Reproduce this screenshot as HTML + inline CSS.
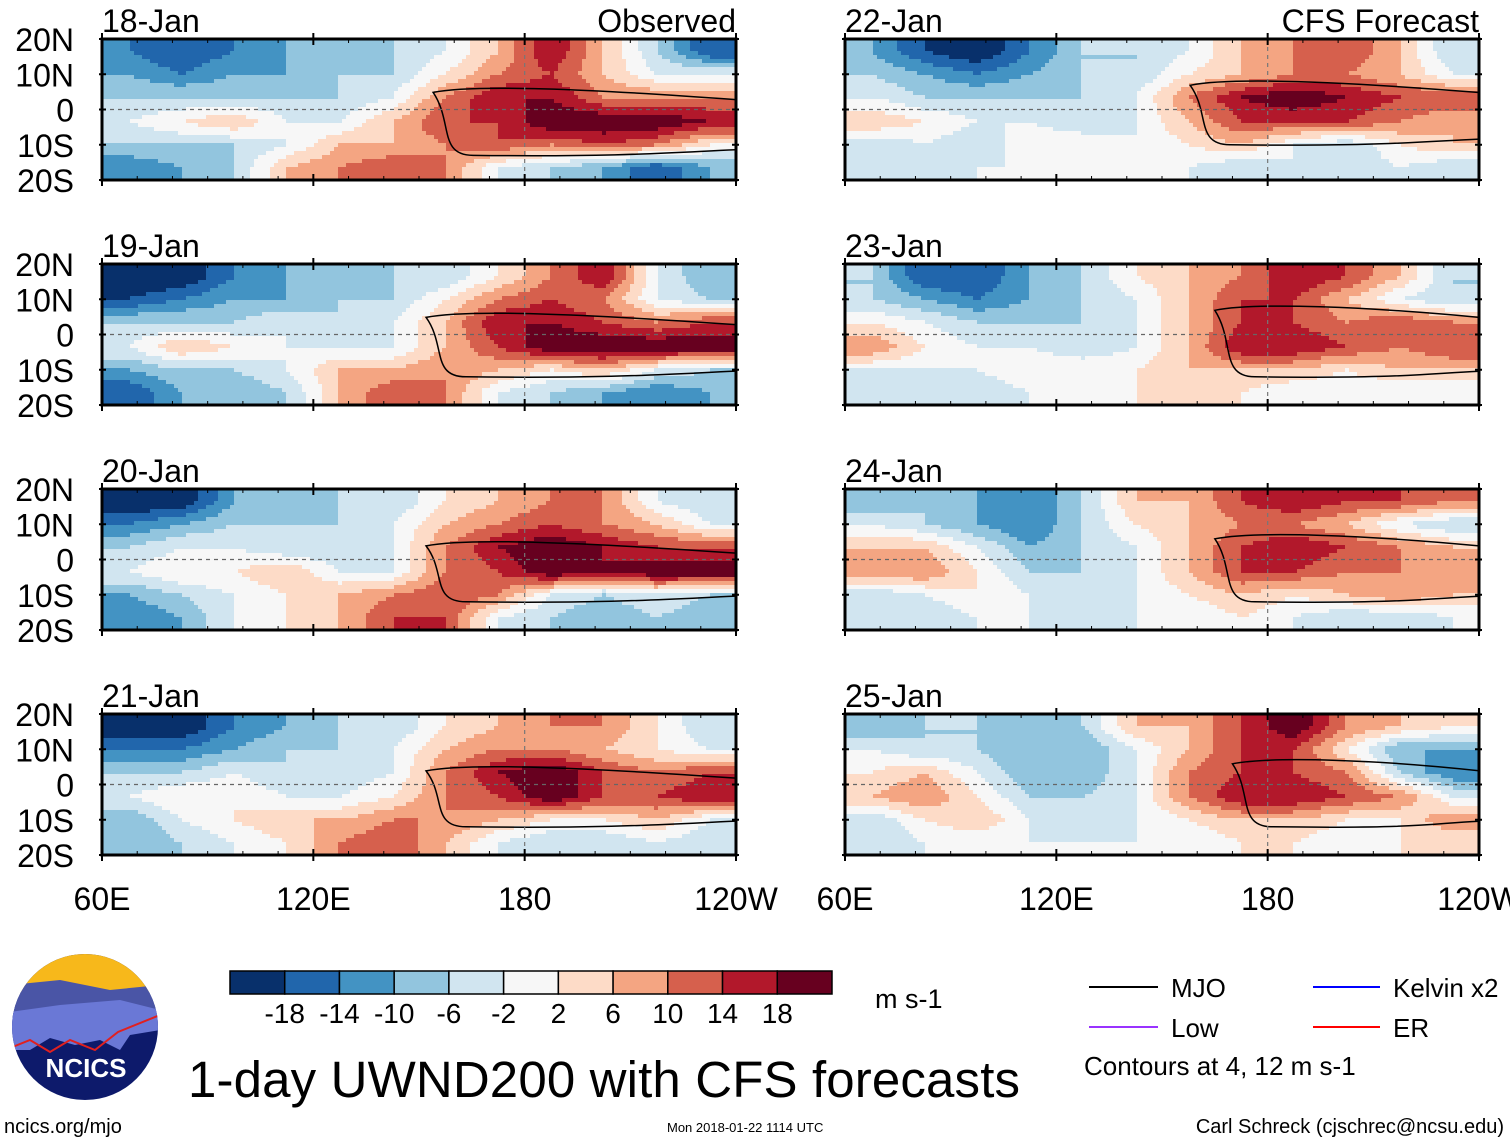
<!DOCTYPE html>
<html><head><meta charset="utf-8">
<style>
body{margin:0;background:#fff;width:1510px;height:1142px;overflow:hidden;font-family:"Liberation Sans",sans-serif;}
svg text{font-family:"Liberation Sans",sans-serif;}
</style></head>
<body>
<svg id="fig" width="1510" height="1142" viewBox="0 0 1510 1142" xmlns="http://www.w3.org/2000/svg">
<g id="panels"></g>
<g id="colorbar"></g>
<text x="875" y="1008" font-size="27">m s-1</text>
<g>
<line x1="1089" y1="987" x2="1158" y2="987" stroke="#000" stroke-width="2"/>
<text x="1171" y="997" font-size="26">MJO</text>
<line x1="1313" y1="987" x2="1380" y2="987" stroke="#0000ff" stroke-width="2"/>
<text x="1393" y="997" font-size="26">Kelvin x2</text>
<line x1="1089" y1="1027" x2="1158" y2="1027" stroke="#9933ff" stroke-width="2"/>
<text x="1171" y="1037" font-size="26">Low</text>
<line x1="1313" y1="1027" x2="1380" y2="1027" stroke="#ff0000" stroke-width="2"/>
<text x="1393" y="1037" font-size="26">ER</text>
<text x="1084" y="1075" font-size="26">Contours at 4, 12 m s-1</text>
</g>
<text x="188" y="1097" font-size="51" textLength="832">1-day UWND200 with CFS forecasts</text>
<text x="4" y="1133" font-size="20">ncics.org/mjo</text>
<text x="667" y="1132" font-size="13">Mon 2018-01-22 1114 UTC</text>
<text x="1504" y="1133" font-size="20" text-anchor="end">Carl Schreck (cjschrec@ncsu.edu)</text>
<g>
<clipPath id="logoclip"><circle cx="85" cy="1027" r="73"/></clipPath>
<g clip-path="url(#logoclip)">
<rect x="10" y="950" width="150" height="160" fill="#0d1a6b"/>
<rect x="10" y="950" width="150" height="42" fill="#f7b81b"/>
<path d="M10 985 L60 980 L110 990 L160 985 L160 1010 L10 1020Z" fill="#4a55a6"/>
<path d="M10 1012 L60 1005 L120 1000 L160 1010 L160 1030 L130 1035 L120 1050 L100 1040 L75 1045 L50 1038 L30 1050 L10 1050Z" fill="#6a78d6"/>
<path d="M10 1048 L30 1040 L50 1052 L70 1040 L95 1050 L118 1032 L160 1015" fill="none" stroke="#e02020" stroke-width="2"/>
</g>
<text x="86" y="1077" font-size="26" font-weight="bold" fill="#fff" text-anchor="middle">NCICS</text>
</g>
</svg>
<script>
// ---------- data ----------
const panelDates = ["18-Jan","19-Jan","20-Jan","21-Jan","22-Jan","23-Jan","24-Jan","25-Jan"];
const lonEdges = [60,75,90,105,120,135,150,165,180,195,210,225,240];
const latEdges = [20,13,7,0,-7,-13,-20];
const colorLevels = [-18,-14,-10,-6,-2,2,6,10,14,18];
const colorTicks = ["-18","-14","-10","-6","-2","2","6","10","14","18"];
const lonTicks = ["60E","120E","180","120W"];
const lonTickValues = [60,120,180,240];
const latTicks = ["20N","10N","0","10S","20S"];
const latTickValues = [20,10,0,-10,-20];
const u0 = [[-14,-18,-14,-10,-10,-6,-2,6,18,6,-6,-18],[-10,-14,-10,-10,-6,-6,2,10,14,6,-2,-2],[-6,-6,-6,-6,-6,-2,10,18,18,10,10,10],[-2,2,6,-2,-2,6,14,14,22,22,22,18],[-6,-6,-6,-2,6,6,10,14,10,14,10,2],[-14,-10,-6,6,10,14,10,-2,-6,-10,-18,-10]];
const u1 = [[-22,-22,-14,-10,-10,-6,-6,2,10,18,-2,-10],[-18,-14,-10,-10,-6,-6,2,10,14,10,-2,-6],[-6,-6,-6,-2,-6,-2,6,18,18,14,10,14],[-2,6,2,-2,-2,-2,6,14,22,22,22,22],[-10,-6,-6,-2,6,6,10,6,2,6,-2,-6],[-18,-10,-10,-6,6,14,10,-2,-6,-10,-14,-10]];
const u2 = [[-22,-22,-10,-10,-6,-6,2,6,10,10,-2,-6],[-14,-10,-6,-6,-6,-2,6,10,14,10,6,-2],[-6,-2,-2,-6,-6,-2,10,18,22,18,14,14],[-2,2,2,6,-2,-2,10,14,22,18,22,22],[-10,-6,-2,2,6,10,14,10,-2,-6,-2,-6],[-14,-10,-2,2,6,14,14,-2,-6,-10,-6,-10]];
const u3 = [[-22,-22,-14,-10,-6,-6,2,6,10,10,2,-6],[-14,-14,-10,-6,-6,-2,6,10,10,6,2,-2],[-6,-6,-2,-6,-6,-2,10,18,22,14,10,14],[-2,2,2,-2,-2,2,10,14,22,14,14,18],[-10,-2,2,6,6,10,10,6,2,2,6,-2],[-10,-6,-2,2,10,14,6,-2,-6,-6,-2,-6]];
const u4 = [[-10,-18,-22,-14,-6,-6,-2,6,10,14,6,-6],[-6,-10,-14,-10,-6,-6,2,6,10,10,6,-2],[-2,-6,-6,-6,-6,-2,10,18,22,18,14,14],[6,2,-2,-2,-6,-2,6,14,14,14,10,6],[-6,-2,-6,2,2,-2,2,6,-2,-6,2,6],[-6,-6,-2,-2,-2,2,-2,-6,-2,-6,-2,-6]];
const u5 = [[-6,-18,-18,-10,-6,2,6,10,18,14,6,-6],[-6,-10,-14,-10,-6,-2,6,14,14,6,-2,-6],[2,-2,-6,-6,-6,-2,6,14,14,10,14,10],[10,2,-2,-2,-6,-2,6,18,18,14,10,14],[-2,-2,-2,2,2,2,6,6,6,2,6,6],[-6,-6,-6,-2,-2,2,2,2,-2,-2,-2,-2]];
const u6 = [[-10,-6,-10,-14,-6,6,6,14,18,14,14,10],[-2,-6,-10,-14,-6,2,6,10,10,6,-2,-6],[6,6,-2,-10,-6,-2,6,14,18,14,10,6],[10,10,2,-6,-6,-2,6,14,14,10,10,6],[-6,-2,2,-2,-6,-2,2,6,2,6,10,6],[-6,-6,-2,-2,-6,-2,-2,2,-2,-6,-6,-2]];
const u7 = [[-10,-6,-6,-10,-6,6,6,14,22,10,6,2],[-2,-6,-6,-10,-10,-2,6,14,14,2,-10,-10],[2,6,-2,-10,-10,-2,10,14,14,10,-6,-14],[6,10,2,-6,-6,-2,10,18,18,14,10,-2],[-6,2,6,-2,-6,-2,2,6,6,2,2,10],[-6,-2,-2,-2,-2,-2,-2,2,2,-2,2,2]];
// MJO contour envelope (west lon, north lat, south lat)
const mjoWest = [154,152,152,152,158,165,165,170];
const mjoNorth = [6,6,5,5,8,8,7,7];
const mjoSouth = [-13,-12,-12,-12,-10,-12,-12,-12];
const fields = [u0,u1,u2,u3,u4,u5,u6,u7];
const palette = ["#08306b","#2166ac","#4393c3","#92c5de","#d1e5f0","#f7f7f7","#fddbc7","#f4a582","#d6604d","#b2182b","#67001f"];

const NS="http://www.w3.org/2000/svg";
function mk(tag,attrs,parent){const e=document.createElementNS(NS,tag);for(const k in attrs)e.setAttribute(k,attrs[k]);if(parent)parent.appendChild(e);return e;}
function colorFor(v){let i=0;while(i<colorLevels.length&&v>=colorLevels[i])i++;return palette[i];}
function fracIndex(centres,v){
  // centres monotonic; returns fractional index clamped
  const n=centres.length, asc=centres[n-1]>centres[0];
  const t=asc?v:-v, cs=centres.map(c=>asc?c:-c);
  if(t<=cs[0]) return 0;
  if(t>=cs[n-1]) return n-1;
  for(let i=0;i<n-1;i++){ if(t>=cs[i]&&t<=cs[i+1]) return i+(t-cs[i])/(cs[i+1]-cs[i]); }
  return n-1;
}
const lonCentres = lonEdges.slice(0,-1).map((e,i)=>(e+lonEdges[i+1])/2);
const latCentres = latEdges.slice(0,-1).map((e,i)=>(e+latEdges[i+1])/2);
function sample(f,lon,lat){
  const nc=f[0].length, nr=f.length;
  const fc=fracIndex(lonCentres,lon), fr=fracIndex(latCentres,lat);
  const c0=Math.floor(fc), r0=Math.floor(fr), c1=Math.min(nc-1,c0+1), r1=Math.min(nr-1,r0+1);
  const tx=fc-c0, ty=fr-r0;
  const a=f[r0][c0]*(1-tx)+f[r0][c1]*tx, b=f[r1][c0]*(1-tx)+f[r1][c1]*tx;
  return a*(1-ty)+b*ty;
}
const PW=634, PH=141, STEP=4;
const colX=[102,845], rowY=[39,264,489,714];
const root=document.getElementById('panels');
panelDates.forEach((d,p)=>{
  const x0=colX[p<4?0:1], y0=rowY[p%4];
  const X=lon=>x0+(lon-60)/180*PW;
  const Y=lat=>y0+(20-lat)/40*PH;
  const g=mk('g',{},root);
  
  
  mk('clipPath',{id:'cp'+p},g).appendChild(mk('rect',{x:x0,y:y0,width:PW,height:PH}));
  const cg=mk('g',{'clip-path':'url(#cp'+p+')'},g);
  const hg=mk('g',{'shape-rendering':'crispEdges'},cg);
  
  
  const f=fields[p];
  for(let py=0;py<PH;py+=STEP){
    const lat=20-(py+STEP/2)/PH*40;
    let runStart=0, runColor=null;
    for(let px=0;px<PW+STEP;px+=STEP){
      const col = px<PW ? colorFor(sample(f,60+(px+STEP/2)/PW*180,lat)) : null;
      if(col!==runColor){
        if(runColor!==null){
          const cell=mk('rect',{x:x0+runStart,y:y0+py,width:Math.min(px,PW)-runStart+0.6,height:STEP+0.6,fill:runColor},hg);
          
          
        }
        runStart=px; runColor=col;
      }
    }
  }
  const xw=X(mjoWest[p]), xe=X(240)+10, yn=Y(mjoNorth[p]), ys=Y(mjoSouth[p]);
  const mjo=mk('path',{d:`M${xe} ${yn+12} C${xw+150} ${yn} ${xw+40} ${yn-4} ${xw} ${yn+4} C${xw+20} ${(yn+ys)/2} ${xw+5} ${ys} ${xw+40} ${ys} C${xw+200} ${ys+2} ${xe-60} ${ys-4} ${xe} ${ys-6}`,fill:'none',stroke:'#000','stroke-width':1.5},cg);
  
  
  mk('line',{x1:x0,x2:x0+PW,y1:Y(0),y2:Y(0),stroke:'#666','stroke-dasharray':'4,4','stroke-width':1.2},cg);
  mk('line',{x1:X(180),x2:X(180),y1:y0,y2:y0+PH,stroke:'#777','stroke-dasharray':'4,4','stroke-width':1.2},cg);
  const fr=mk('rect',{x:x0,y:y0,width:PW,height:PH,fill:'none',stroke:'#000','stroke-width':3},g);
  
  
  lonTickValues.forEach(v=>{mk('line',{x1:X(v),x2:X(v),y1:y0-6,y2:y0+6,stroke:'#000','stroke-width':2},g);mk('line',{x1:X(v),x2:X(v),y1:y0+PH-6,y2:y0+PH+6,stroke:'#000','stroke-width':2},g);});
  for(let v=70;v<240;v+=10){mk('line',{x1:X(v),x2:X(v),y1:y0,y2:y0+4,stroke:'#000'},g);mk('line',{x1:X(v),x2:X(v),y1:y0+PH-4,y2:y0+PH,stroke:'#000'},g);}
  latTickValues.forEach(v=>{mk('line',{x1:x0-3,x2:x0+4,y1:Y(v),y2:Y(v),stroke:'#000','stroke-width':2},g);mk('line',{x1:x0+PW-4,x2:x0+PW+3,y1:Y(v),y2:Y(v),stroke:'#000','stroke-width':2},g);});
  const t=mk('text',{x:x0,y:y0-7,'font-size':32},g); t.textContent=d;
  
  
  if(p===0||p===4){const s=mk('text',{x:x0+PW,y:y0-7,'font-size':32,'text-anchor':'end'},g);s.textContent=p===0?'Observed':'CFS Forecast';
    
    }
  if(p<4){latTickValues.forEach((v,i)=>{const l=mk('text',{x:74,y:Y(v)+12,'font-size':32,'text-anchor':'end'},g);l.textContent=latTicks[i];
    
    });}
  if(p%4===3){lonTickValues.forEach((v,i)=>{const l=mk('text',{x:X(v),y:910,'font-size':32,'text-anchor':'middle'},g);l.textContent=lonTicks[i];
    
    });}
});
const cb=document.getElementById('colorbar');
const cbx=230, cbw=602, bw=cbw/palette.length;
palette.forEach((c,i)=>{const r=mk('rect',{x:cbx+i*bw,y:971,width:bw,height:23,fill:c,stroke:'#000','stroke-width':1.5},cb);
  
  });
colorTicks.forEach((s,i)=>{const t=mk('text',{x:cbx+(i+1)*bw,y:1023,'font-size':28,'text-anchor':'middle'},cb);t.textContent=s;
  
  });
</script>
</body></html>
